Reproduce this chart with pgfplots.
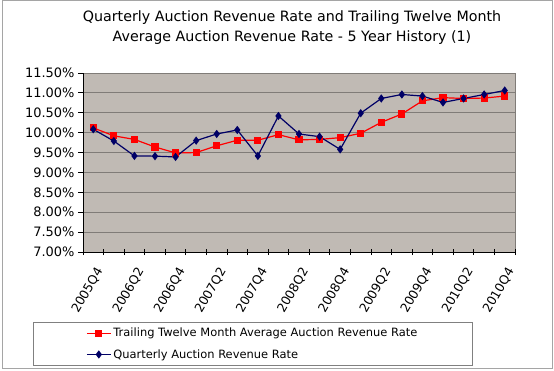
\documentclass[border=0pt]{standalone}
\usepackage{pgfplots}
\pgfplotsset{compat=1.18}
\usepackage{fontspec}
\setmainfont{DejaVu Sans}
\definecolor{plotbg}{RGB}{192,186,180}
\definecolor{gridc}{RGB}{128,124,120}
\definecolor{navyc}{RGB}{0,0,102}
\definecolor{framec}{RGB}{165,165,165}
\pgfplotstableread{
x ttm q
0 10.12 10.085
1 9.92 9.79
2 9.83 9.415
3 9.64 9.41
4 9.49 9.39
5 9.50 9.80
6 9.67 9.967
7 9.81 10.068
8 9.81 9.415
9 9.95 10.42
10 9.82 9.967
11 9.83 9.90
12 9.875 9.58
13 9.985 10.49
14 10.26 10.86
15 10.47 10.96
16 10.80 10.92
17 10.88 10.76
18 10.86 10.86
19 10.87 10.96
20 10.92 11.06
}\datatable
\begin{document}
\begin{tikzpicture}[x=1bp,y=1bp]
\useasboundingbox (0,0) rectangle (554,370);
\draw[color=framec, line width=1bp] (2,2) rectangle (552,369);
\node[align=center, font=\fontsize{14.3}{20}\selectfont] at (292,342) {Quarterly Auction Revenue Rate and Trailing Twelve Month\\Average Auction Revenue Rate - 5 Year History (1)};
\begin{axis}[
  at={(83bp,118bp)}, anchor=south west,
  scale only axis, width=432bp, height=179bp,
  xmin=-0.5, xmax=20.5, ymin=7, ymax=11.5,
  axis background/.style={fill=plotbg},
  axis line style={draw=gridc, line width=0.9bp},
  ymajorgrids, grid style={draw=gridc, line width=0.9bp},
  ytick={7,7.5,...,11.5},
  ytick pos=left, ytick align=outside,
  yticklabel={\pgfmathprintnumber[fixed,fixed zerofill,precision=2]{\tick}\%},
  /pgf/number format/assume math mode=true,
  yticklabel style={font=\fontsize{13}{15}\selectfont},
  xtick={0,2,...,20},
  xticklabels={2005Q4,2006Q2,2006Q4,2007Q2,2007Q4,2008Q2,2008Q4,2009Q2,2009Q4,2010Q2,2010Q4},
  xtick pos=bottom,
  x tick style={draw=none},
  y tick style={draw=black, line width=0.8bp},
  major tick length=5bp,
  extra x ticks={-0.5,0.5,...,20.5},
  extra x tick labels={},
  extra x tick style={grid=none, major tick length=6bp, tick align=center, x tick style={draw=black, line width=0.8bp}},
  xticklabel style={font=\fontsize{12.5}{14}\selectfont, xshift=7bp, yshift=-16bp, rotate=60, anchor=east, inner sep=1bp},
  legend style={at={(-0.1157,-0.391)}, anchor=north west, draw=gray, fill=white,
    font=\fontsize{11.5}{13}\selectfont, inner xsep=53bp, inner ysep=4bp, row sep=7bp},
  legend cell align=left,
  legend image code/.code={\draw[mark repeat=2,mark phase=2] plot coordinates {(0bp,0bp) (12bp,0bp) (24bp,0bp)};},
  after end axis/.code={
    \draw[black, line width=0.9bp] (rel axis cs:0,1) -- (rel axis cs:0,0) -- (rel axis cs:1,0);
  },
]
\addplot[color=red, line width=1.2bp, mark=square*, mark size=3bp, mark options={fill=red}] table[x=x,y=ttm] {\datatable};
\addlegendentry{Trailing Twelve Month Average Auction Revenue Rate}
\addplot[color=navyc, line width=1.2bp, mark=diamond*, mark size=3.2bp, mark options={fill=navyc}] table[x=x,y=q] {\datatable};
\addlegendentry{Quarterly Auction Revenue Rate}
\end{axis}
\end{tikzpicture}
\end{document}
